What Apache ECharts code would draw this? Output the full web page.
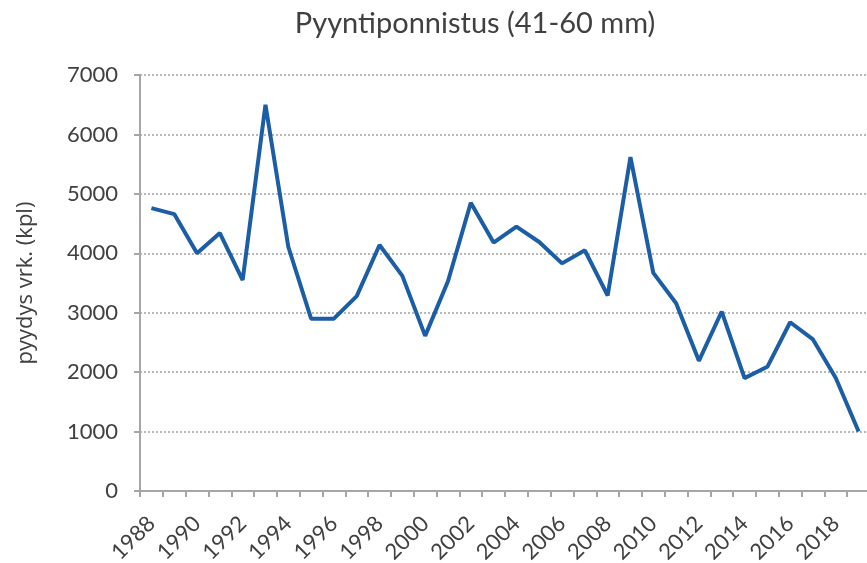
<!DOCTYPE html>
<html>
<head>
<meta charset="utf-8">
<script src="https://cdn.jsdelivr.net/npm/echarts@6/dist/echarts.min.js"></script>
<style>
html,body{margin:0;padding:0;background:#fff;}
#chart_main{width:867px;height:563px;}
</style>
</head>
<body>
<div id="chart_main"></div>
<script>
// vuodet ja arvot
var years = [];
for (var y = 1988; y <= 2019; y++) years.push(String(y));
var catch41_60 = [4760, 4660, 4000, 4340, 3550, 6500, 4110, 2900, 2900, 3280,
    4140, 3620, 2610, 3530, 4850, 4180, 4450, 4190, 3830, 4050,
    3290, 5620, 3670, 3160, 2190, 3020, 1900, 2090, 2840, 2550,
    1900, 1000];
var yTicks = [0, 1000, 2000, 3000, 4000, 5000, 6000, 7000];

var myChart = echarts.init(document.getElementById('chart_main'));
var txt = '#404040';
var option = {
    backgroundColor: '#fff',
    title: {
        text: 'Pyyntiponnistus (41-60 mm)',
        left: 470,
        textAlign: 'center',
        top: 4,
        textStyle: {fontFamily: 'Lato', fontSize: 29, fontWeight: 'normal', color: txt}
    },
    grid: {left: 140, right: -3, top: 75, bottom: 72, outerBoundsMode: 'none'},
    xAxis: {
        type: 'category',
        data: years,
        boundaryGap: true,
        axisLine: {lineStyle: {color: '#a6a6a6', width: 2}},
        axisTick: {show: true, interval: 0, length: 6, lineStyle: {color: '#a6a6a6', width: 2}},
        axisLabel: {interval: 1, rotate: 45, fontFamily: 'Lato', fontSize: 22, color: txt, margin: 29}
    },
    yAxis: {
        type: 'value',
        min: yTicks[0],
        max: yTicks[yTicks.length - 1],
        interval: 1000,
        name: 'pyydys vrk. (kpl)',
        nameLocation: 'middle',
        nameGap: 103,
        nameTextStyle: {fontFamily: 'Open Sans', fontSize: 22, color: txt},
        axisLine: {show: true, lineStyle: {color: '#a6a6a6', width: 2}},
        axisTick: {show: true, length: 6, lineStyle: {color: '#a6a6a6', width: 2}},
        axisLabel: {
            fontFamily: 'Lato', fontSize: 22, color: txt, margin: 22,
            formatter: function (v) { return String(v); }
        },
        splitLine: {lineStyle: {color: '#b8b8b8', type: [2, 2], width: 2}}
    },
    series: [{
        type: 'line',
        data: catch41_60,
        symbol: 'none',
        lineStyle: {color: '#1b5ea6', width: 4},
        animation: false
    }]
};
myChart.setOption(option);
</script>
</body>
</html>
